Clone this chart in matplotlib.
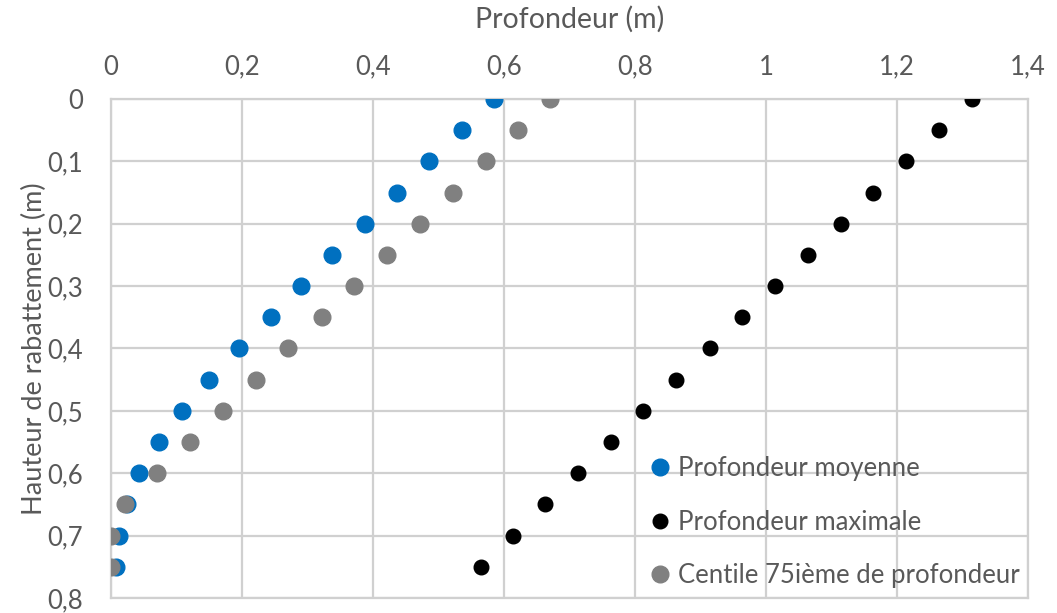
import matplotlib
matplotlib.use("Agg")
import matplotlib.pyplot as plt
from matplotlib.ticker import FuncFormatter

plt.rcParams["font.family"] = ["Lato", "DejaVu Sans"]

# hauteur de rabattement (m)
hauteur = [0, 0.05, 0.1, 0.15, 0.2, 0.25, 0.3, 0.35, 0.4, 0.45, 0.5, 0.55, 0.6, 0.65, 0.7, 0.75]

# profondeur (m)
prof_moyenne = [0.585, 0.536, 0.485, 0.436, 0.388, 0.337, 0.290, 0.244,
                0.196, 0.150, 0.109, 0.073, 0.043, 0.025, 0.013, 0.008]
prof_maximale = [1.314, 1.264, 1.214, 1.164, 1.114, 1.064, 1.014, 0.964,
                 0.914, 0.863, 0.813, 0.763, 0.713, 0.663, 0.614, 0.565]
centile_75 = [0.670, 0.622, 0.572, 0.522, 0.472, 0.421, 0.371, 0.322,
              0.271, 0.221, 0.171, 0.121, 0.071, 0.021, 0.0, 0.0]

xticks = [0, 0.2, 0.4, 0.6, 0.8, 1.0, 1.2, 1.4]
yticks = [0, 0.1, 0.2, 0.3, 0.4, 0.5, 0.6, 0.7, 0.8]

txt = "#595959"
grid = "#d0d0d0"

fig = plt.figure(figsize=(10.57, 6.13), dpi=100)
ax = fig.add_axes([0.105, 0.0245, 0.8675, 0.814])

ax.plot(prof_moyenne, hauteur, "o", color="#0070C0", markersize=12, label="Profondeur moyenne", zorder=3)
ax.plot(prof_maximale, hauteur, "o", color="black", markersize=10.5, label="Profondeur maximale", zorder=3)
ax.plot(centile_75, hauteur, "o", color="#808080", markersize=12, label="Centile 75ième de profondeur", zorder=4)

ax.set_xlim(0, 1.4)
ax.set_ylim(0.8, 0)
ax.set_xticks(xticks)
ax.set_yticks(yticks)

def fr(v, pos):
    s = ("%.1f" % v).replace(".", ",")
    if s.endswith(",0"):
        s = s[:-2]
    return s

ax.xaxis.set_major_formatter(FuncFormatter(fr))
ax.yaxis.set_major_formatter(FuncFormatter(fr))
ax.xaxis.tick_top()
ax.xaxis.set_label_position("top")
ax.tick_params(length=0, labelsize=18.5, colors=txt)
ax.tick_params(axis="x", pad=14)
ax.tick_params(axis="y", pad=20)

ax.grid(True, color=grid, linewidth=1.6)
ax.set_axisbelow(True)
for s in ax.spines.values():
    s.set_color(grid)
    s.set_linewidth(1.6)

ax.set_xlabel("Profondeur (m)", fontsize=20.5, color=txt, labelpad=19)
ax.set_ylabel("Hauteur de rabattement (m)", fontsize=19.5, color=txt, labelpad=0)

leg = ax.legend(loc="lower left", bbox_to_anchor=(0.565, -0.016), frameon=False,
                fontsize=18.5, labelcolor=txt, handlelength=1.0, handletextpad=0.2,
                labelspacing=1.1, borderaxespad=0.3)

fig.savefig("out.png", dpi=100)
